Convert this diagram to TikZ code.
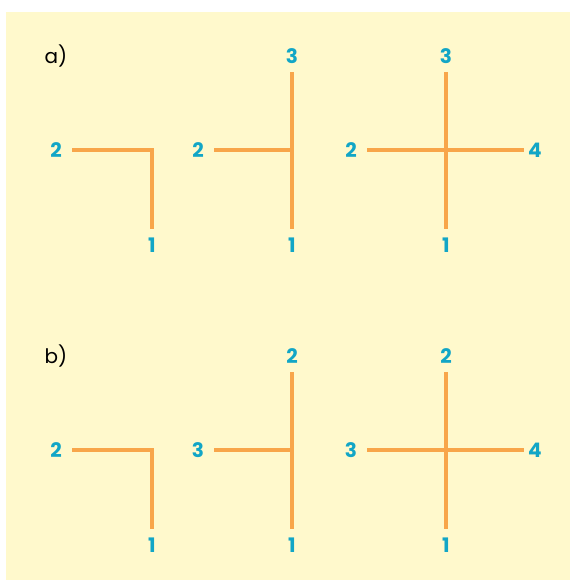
\documentclass[tikz,border=0pt]{standalone}
\usepackage{fontspec}
\setmainfont{Poppins}
\definecolor{PipeOrange}{RGB}{248,166,74}
\definecolor{PipeLabel}{RGB}{18,166,198}
\definecolor{PaperYellow}{RGB}{255,249,204}
\begin{document}
\begin{tikzpicture}[x=1pt,y=-1pt,
  pipe/.style={PipeOrange,line width=4pt},
  lbl/.style={circle,inner sep=0pt,minimum size=32pt,text=PipeLabel,font=\fontsize{20}{20}\selectfont\bfseries},
  tag/.style={font=\fontsize{20}{20}\selectfont}]
\useasboundingbox (0,0) rectangle (570,580);
\fill[PaperYellow] (6,12) rectangle (570,580);
\foreach \r/\y/\tp/\lf in %
{a/150/3/2,b/450/2/3} {
   \node[tag] (\r-tag) at (56,\y-94) {\r)};
   % elbow
   \coordinate (\r-c1) at (152,\y);
   \node[lbl] (\r-l1w) at (56,\y) {2};
   \node[lbl] (\r-l1s) at (152,\y+95) {1};
   \draw[pipe] (\r-l1w) -- (\r-c1) -- (\r-l1s);
   % tee
   \coordinate (\r-c2) at (292,\y);
   \node[lbl] (\r-l2n) at (292,\y-94) {\tp};
   \node[lbl] (\r-l2w) at (198,\y) {\lf};
   \node[lbl] (\r-l2s) at (292,\y+95) {1};
   \draw[pipe] (\r-l2n) -- (\r-l2s);
   \draw[pipe] (\r-l2w) -- (\r-c2);
   % cross
   \coordinate (\r-c3) at (446,\y);
   \node[lbl] (\r-l3n) at (446,\y-94) {\tp};
   \node[lbl] (\r-l3w) at (351,\y) {\lf};
   \node[lbl,minimum size=21pt] (\r-l3e) at (535,\y) {4};
   \node[lbl] (\r-l3s) at (446,\y+95) {1};
   \draw[pipe] (\r-l3n) -- (\r-l3s);
   \draw[pipe] (\r-l3w) -- (\r-l3e);
}
\end{tikzpicture}
\end{document}
